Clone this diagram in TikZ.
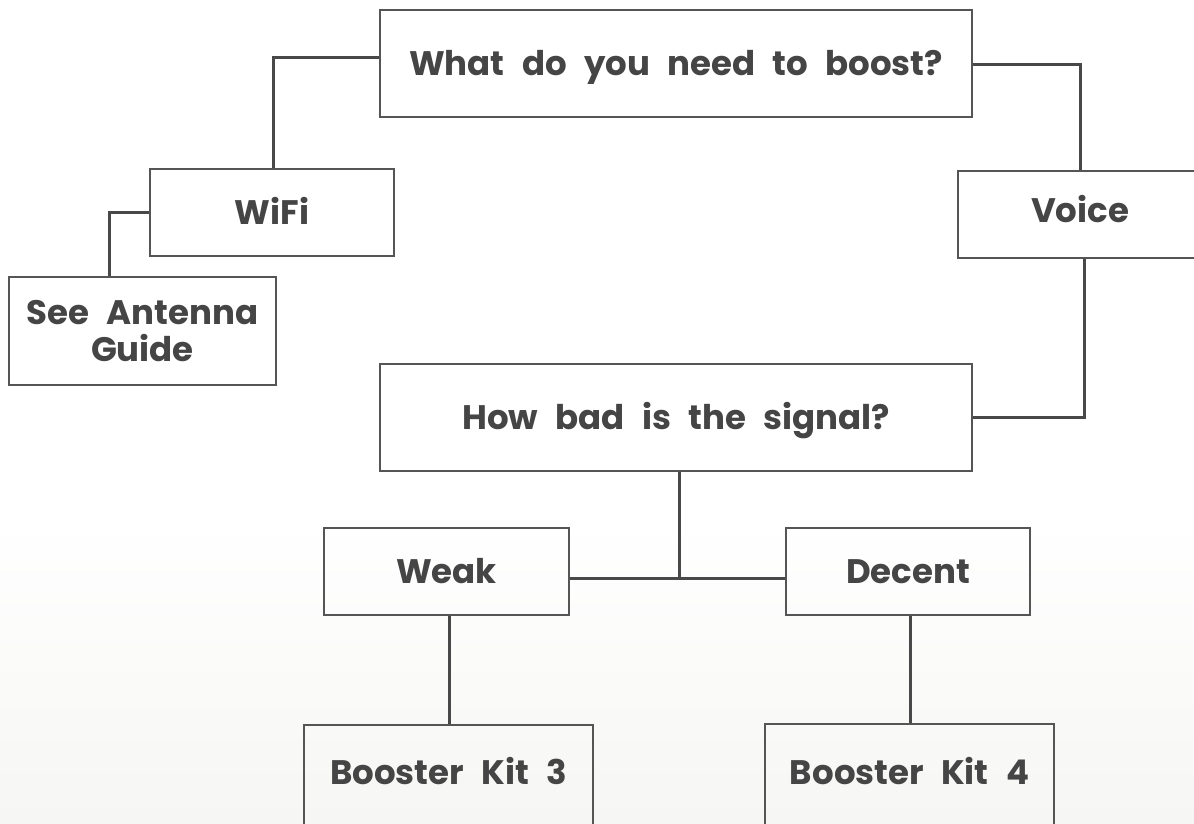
\documentclass[tikz,border=0pt]{standalone}
\usepackage{fontspec}
\setmainfont{Poppins}[WordSpace=2.4]
\definecolor{txt}{HTML}{454545}
\definecolor{bord}{HTML}{555555}
\definecolor{conn}{HTML}{484848}
\definecolor{bgbot}{HTML}{F6F6F4}
\begin{document}
\begin{tikzpicture}[x=1pt,y=-1pt,
  box/.style={draw=bord,line width=2.4pt,rectangle,inner sep=0pt,
    text=txt,font=\fontsize{34}{37}\selectfont\bfseries,align=center},
  oneline/.style={text height=24pt,text depth=0pt},
  link/.style={draw=conn,line width=3pt}]
\useasboundingbox (0,0) rectangle (1194,824);
\fill[white] (0,0) rectangle (1194,824);
\shade[top color=white,bottom color=bgbot] (0,520) rectangle (1194,824);
\begin{scope}
\clip (0,0) rectangle (1194,824);
\node[box,oneline,minimum width=592pt,minimum height=107pt] (top) at (676,63.5) {What do you need to boost?};
\node[box,oneline,minimum width=244pt,minimum height=87pt] (wifi) at (272,212.5) {WiFi};
\node[box,oneline,minimum width=244pt,minimum height=87pt] (voice) at (1080,214.5) {\raisebox{4pt}{Voice}};
\node[box,minimum width=267pt,minimum height=108pt] (antenna) at (142.5,331) {See Antenna\\Guide};
\node[box,oneline,minimum width=592pt,minimum height=107pt] (howbad) at (676,417.5) {How bad is the signal?};
\node[box,oneline,minimum width=245pt,minimum height=87pt] (weak) at (446.5,571.5) {Weak};
\node[box,oneline,minimum width=244pt,minimum height=87pt] (decent) at (908,571.5) {Decent};
\node[box,oneline,minimum width=289pt,minimum height=106pt] (kit3) at (448.5,778) {\raisebox{5.5pt}{Booster Kit 3}};
\node[box,oneline,minimum width=289pt,minimum height=106pt] (kit4) at (909.5,777) {\raisebox{4.5pt}{Booster Kit 4}};
\draw[link] ([yshift=5.5pt]top.west) -| ([xshift=1pt]wifi.north);
\draw[link] ([yshift=-1.5pt]top.east) -| (voice.north);
\draw[link] (wifi.west) -| ([xshift=-33.5pt]antenna.north);
\draw[link] ([xshift=4pt]voice.south) |- (howbad.east);
\draw[link] ([yshift=-6.5pt]weak.east) coordinate (wl) -- ([yshift=-6.5pt]decent.west);
\coordinate (hb) at ([xshift=3pt]howbad.south);
\draw[link] (hb) -- (hb |- wl);
\coordinate (ws) at ([xshift=2.5pt]weak.south);
\draw[link] (ws) -- (ws |- kit3.north);
\coordinate (ds) at ([xshift=2pt]decent.south);
\draw[link] (ds) -- (ds |- kit4.north);
\end{scope}
\end{tikzpicture}
\end{document}
